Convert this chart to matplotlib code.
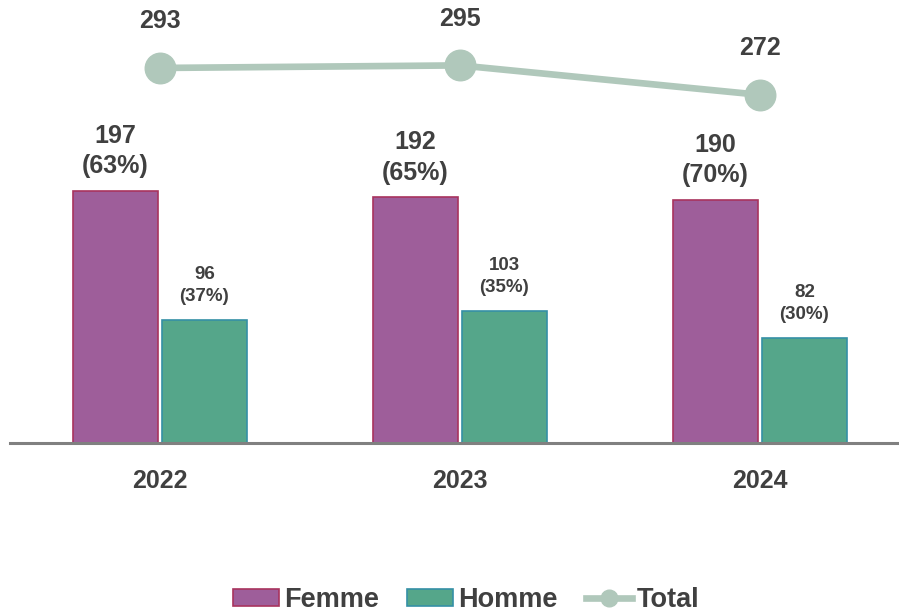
import numpy as np
import matplotlib
matplotlib.use("Agg")
import matplotlib.pyplot as plt

plt.rcParams['font.family'] = ['Liberation Sans', 'DejaVu Sans']

# data
years = ['2022', '2023', '2024']
femme = [197, 192, 190]
femme_pct = [63, 65, 70]
homme = [96, 103, 82]
homme_pct = [37, 35, 30]
total = [293, 295, 272]

c_femme = '#9E5E9A'
c_femme_edge = '#A8335E'
c_homme = '#55A68A'
c_homme_edge = '#3590A6'
c_total = '#B0C8BB'
c_text = '#404040'

fig = plt.figure(figsize=(8.99, 6.15), dpi=100)
# axes placed by pixels: baseline at y=443, categories 300px apart
ax = fig.add_axes([10/899, (615-443)/615, 900/899, 340*1.28/615])

x = np.arange(len(years))
w = 0.283
off = 0.148

b1 = ax.bar(x - off, femme, w, color=c_femme, edgecolor=c_femme_edge, linewidth=1.2, label='Femme')
b2 = ax.bar(x + off, homme, w, color=c_homme, edgecolor=c_homme_edge, linewidth=1.2, label='Homme')
ln, = ax.plot(x, total, color=c_total, lw=4.8, marker='o', markersize=22, label='Total', zorder=3)

for i in range(len(years)):
    ax.annotate(f"{femme[i]}\n({femme_pct[i]}%)", (x[i] - off, femme[i]),
                xytext=(0, 9), textcoords='offset points', ha='center', va='bottom',
                fontsize=18, fontweight='bold', color=c_text, linespacing=1.35)
    ax.annotate(f"{homme[i]}\n({homme_pct[i]}%)", (x[i] + off, homme[i]),
                xytext=(0, 11), textcoords='offset points', ha='center', va='bottom',
                fontsize=13.5, fontweight='bold', color=c_text, linespacing=1.35)
    ax.annotate(f"{total[i]}", (x[i], total[i]),
                xytext=(0, 25), textcoords='offset points', ha='center', va='bottom',
                fontsize=18, fontweight='bold', color=c_text)

ax.set_xlim(-0.5, 2.5)
ax.set_ylim(0, 340)
ax.set_xticks(x)
ax.set_xticklabels(years, fontsize=18, fontweight='bold', color=c_text)
ax.tick_params(axis='x', length=0, pad=19)
ax.set_yticks([])
for s in ['top', 'right', 'left']:
    ax.spines[s].set_visible(False)
ax.spines['bottom'].set_color('#808080')
ax.spines['bottom'].set_linewidth(2.2)

leg = fig.legend(handles=[b1, b2, ln], loc='center', bbox_to_anchor=(466/899, 1 - 600/615),
                 ncol=3, frameon=False, handlelength=1.7, handleheight=0.62, handletextpad=0.18,
                 columnspacing=1.05, prop={'size': 19.5, 'weight': 'bold'})
for t in leg.get_texts():
    t.set_color(c_text)
leg.legend_handles[2].set_markersize(12)

fig.savefig('out.png', dpi=100)
